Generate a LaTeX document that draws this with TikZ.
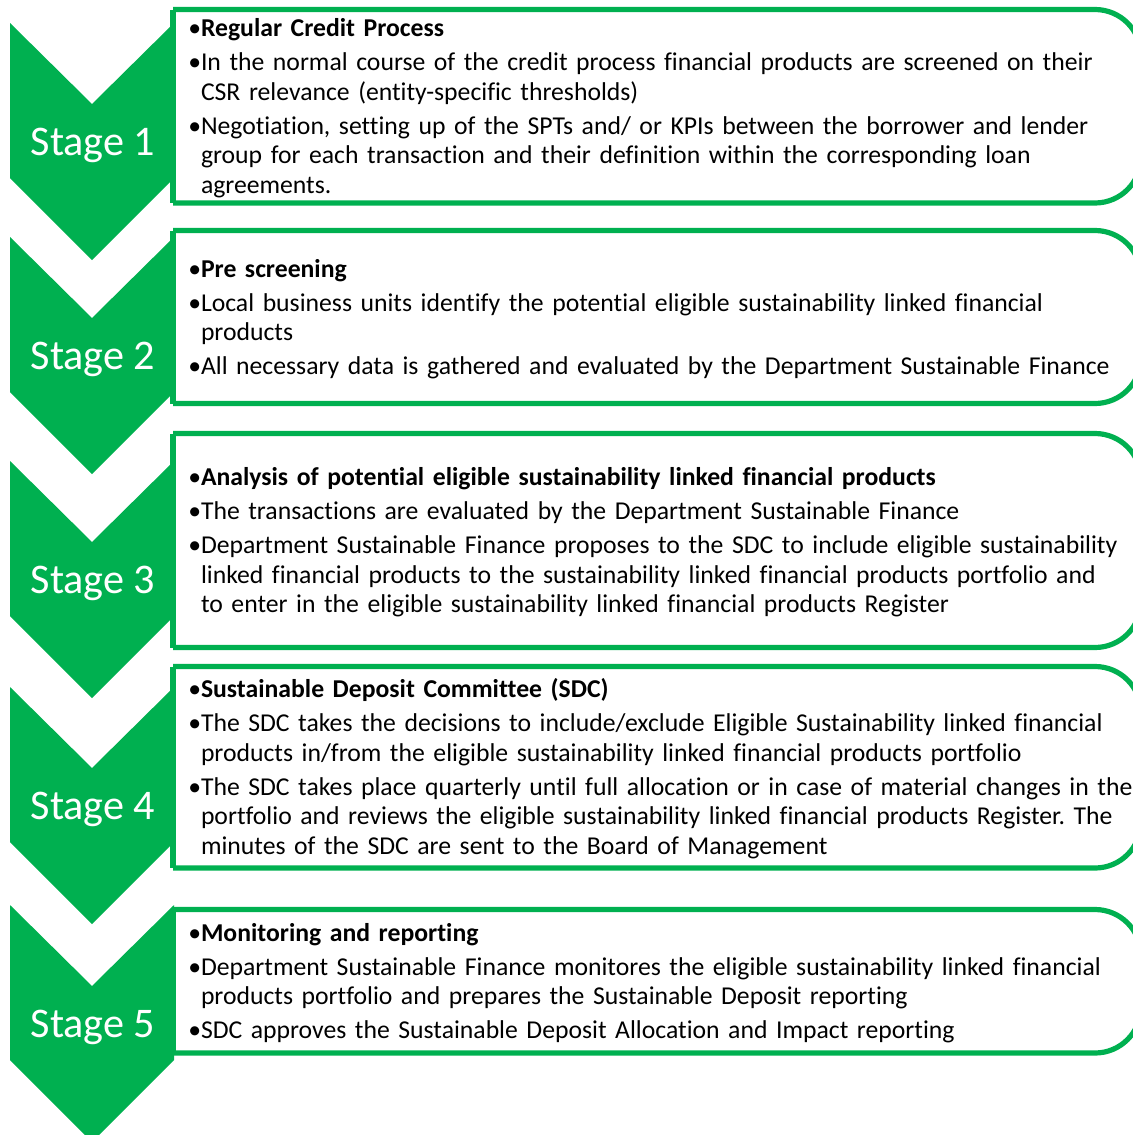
\documentclass[tikz,border=0pt]{standalone}
\usepackage{fontspec}
\setmainfont{Carlito}[Ligatures=NoCommon]
\usetikzlibrary{positioning,calc}
\definecolor{stgreen}{HTML}{00B050}
\newcommand\bpt{\par\hangindent=6.3pt\hangafter=1\noindent\makebox[6.3pt][l]{\textbullet}}
\tikzset{
  chev/.style  = {fill=stgreen, draw=none},
  stg/.style   = {font=\fontsize{21.1}{24}\selectfont, text=white, inner sep=0pt},
  card/.style  = {draw=stgreen, line width=2.6pt, fill=white, rounded corners=23pt},
  cedge/.style = {draw=stgreen, line width=2.6pt, line cap=square},
  txt/.style   = {anchor=west, align=left, text width=500pt, inner sep=0pt,
                  font=\fontsize{12.85}{14.75}\selectfont,
                  execute at begin node={\setlength{\parskip}{2.25pt}}},
}
\begin{document}
\begin{tikzpicture}[x=0.5pt,y=-0.5pt]
  \useasboundingbox (0,0) rectangle (1133,1135);
  \clip (0,0) rectangle (1133,1135);
  % chevrons, top edge of each
  \foreach \n/\t in {1/23, 2/237, 3/461, 4/687, 5/905}{
    \fill[chev] (10,\t) -- (92,\t+81) -- (174,\t) -- (174,\t+155)
      -- (92,\t+237) -- (10,\t+155) -- cycle;
    \node[stg] (s\n) at (93,\t+122) {Stage \n};
  }
  % text cards, rounded on the right only
  \foreach \n/\t/\b in {1/9.5/203, 2/230.5/403.5, 3/433.5/647.5, 4/666.5/868, 5/909.5/1053}{
    \filldraw[card] (173,\t) -- (1141,\t) -- (1141,\b) -- (173,\b);
    \draw[cedge] (173,\t) -- (173,\b);
    \coordinate (c\n) at (188,{(\t+\b)/2-6});
  }
  \node[txt] (t1) at (c1) {%
    \bpt\textbf{Regular Credit Process}
    \bpt In the normal course of the credit process financial products are screened on their\newline
      CSR relevance (entity-specific thresholds)
    \bpt Negotiation, setting up of the SPTs and/ or KPIs between the borrower and lender\newline
      group for each transaction and their definition within the corresponding loan\newline
      agreements.\par};
  \node[txt] (t2) at (c2) {%
    \bpt\textbf{Pre screening}
    \bpt Local business units identify the potential eligible sustainability linked financial\newline
      products
    \bpt All necessary data is gathered and evaluated by the Department Sustainable Finance\par};
  \node[txt] (t3) at (c3) {%
    \bpt\textbf{Analysis of potential eligible sustainability linked financial products}
    \bpt The transactions are evaluated by the Department Sustainable Finance
    \bpt Department Sustainable Finance proposes to the SDC to include eligible sustainability\newline
      linked financial products to the sustainability linked financial products portfolio and\newline
      to enter in the eligible sustainability linked financial products Register\par};
  \node[txt] (t4) at (c4) {%
    \bpt\textbf{Sustainable Deposit Committee (SDC)}
    \bpt The SDC takes the decisions to include/exclude Eligible Sustainability linked financial\newline
      products in/from the eligible sustainability linked financial products portfolio
    \bpt The SDC takes place quarterly until full allocation or in case of material changes in the\newline
      portfolio and reviews the eligible sustainability linked financial products Register.\ The\newline
      minutes of the SDC are sent to the Board of Management\par};
  \node[txt] (t5) at (c5) {%
    \bpt\textbf{Monitoring and reporting}
    \bpt Department Sustainable Finance monitores the eligible sustainability linked financial\newline
      products portfolio and prepares the Sustainable Deposit reporting
    \bpt SDC approves the Sustainable Deposit Allocation and Impact reporting\par};
\end{tikzpicture}
\end{document}
